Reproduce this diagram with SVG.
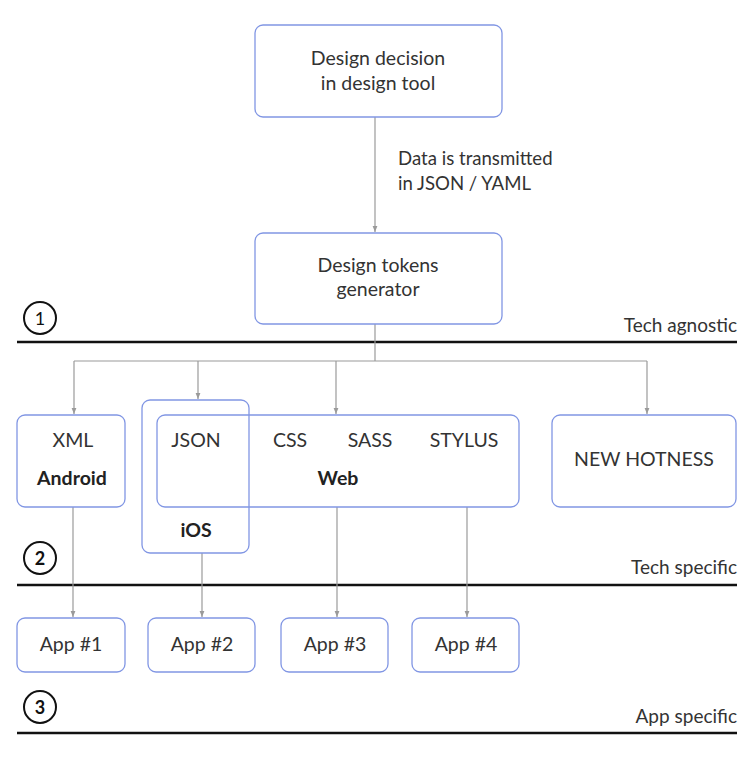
<svg xmlns="http://www.w3.org/2000/svg" width="754" height="759" viewBox="0 0 754 759">
<style>
.box{fill:none;stroke:#8196e4;stroke-width:1.3}
.t{font-family:Lato,"Open Sans",sans-serif;font-size:19.5px;fill:#333;text-anchor:middle}
.b{font-weight:bold;fill:#222}
.lbl{font-family:Lato,"Open Sans",sans-serif;font-size:19px;fill:#333}
.r{text-anchor:end}
.sep{stroke:#111;stroke-width:2.5}
.num{fill:none;stroke:#111;stroke-width:2}
.nt{font-family:Lato,"Open Sans",sans-serif;font-size:18px;fill:#111;text-anchor:middle}
.c{fill:none;stroke:#9a9a9a;stroke-width:1.2}
</style>
<defs>
<marker id="ah" viewBox="0 0 10 10" refX="10" refY="5" markerWidth="6" markerHeight="6" orient="auto" markerUnits="userSpaceOnUse">
<path d="M0,1 L10,5 L0,9 z" fill="#9a9a9a"/>
</marker>
</defs>
<rect width="754" height="759" fill="#fff"/>
<g id="layers">
<line class="sep" x1="17" y1="342" x2="737" y2="342"/>
<line class="sep" x1="17" y1="585" x2="737" y2="585"/>
<line class="sep" x1="17" y1="733" x2="737" y2="733"/>
<circle class="num" cx="40" cy="318" r="16"/>
<text class="nt" x="40" y="324.5">1</text>
<circle class="num" cx="40" cy="558" r="16"/>
<text class="nt b" x="40" y="564.5">2</text>
<circle class="num" cx="40" cy="707" r="16"/>
<text class="nt b" x="40" y="713.5">3</text>
<text class="lbl r" x="737" y="332">Tech agnostic</text>
<text class="lbl r" x="737" y="574">Tech specific</text>
<text class="lbl r" x="737" y="723">App specific</text>
</g>
<g id="connectors">
<line class="c" x1="375" y1="117" x2="375" y2="232" marker-end="url(#ah)"/>
<text class="lbl" x="398" y="165" style="font-size:18.6px">Data is transmitted</text>
<text class="lbl" x="398" y="190" style="font-size:18.6px">in JSON / YAML</text>
<line class="c" x1="375" y1="324" x2="375" y2="361"/>
<line class="c" x1="74" y1="361" x2="647" y2="361"/>
<line class="c" x1="74" y1="361" x2="74" y2="414" marker-end="url(#ah)"/>
<line class="c" x1="198" y1="361" x2="198" y2="399" marker-end="url(#ah)"/>
<line class="c" x1="336" y1="361" x2="336" y2="414" marker-end="url(#ah)"/>
<line class="c" x1="647" y1="361" x2="647" y2="414" marker-end="url(#ah)"/>
<line class="c" x1="73" y1="507" x2="73" y2="617" marker-end="url(#ah)"/>
<line class="c" x1="202" y1="553" x2="202" y2="617" marker-end="url(#ah)"/>
<line class="c" x1="337" y1="507" x2="337" y2="617" marker-end="url(#ah)"/>
<line class="c" x1="467" y1="507" x2="467" y2="617" marker-end="url(#ah)"/>
</g>
<g id="design-decision">
<rect class="box" x="255" y="25" width="247" height="92" rx="8"/>
<text class="t" x="378" y="65">Design decision</text>
<text class="t" x="378" y="90">in design tool</text>
</g>
<g id="tokens-generator">
<rect class="box" x="255" y="233" width="247" height="91" rx="8"/>
<text class="t" x="378" y="272">Design tokens</text>
<text class="t" x="378" y="296">generator</text>
</g>
<g id="android">
<rect class="box" x="17" y="415" width="108" height="92" rx="8"/>
<text class="t" x="73" y="447">XML</text>
<text class="t b" x="72" y="485">Android</text>
</g>
<g id="ios">
<rect class="box" x="142" y="400" width="107" height="153" rx="8"/>
<text class="t" x="196" y="447">JSON</text>
<text class="t b" x="196" y="537">iOS</text>
</g>
<g id="web">
<rect class="box" x="157" y="415" width="362" height="92" rx="8"/>
<text class="t" x="290" y="447">CSS</text>
<text class="t" x="370" y="447">SASS</text>
<text class="t" x="464" y="447">STYLUS</text>
<text class="t b" x="338" y="485">Web</text>
</g>
<g id="new-hotness">
<rect class="box" x="552" y="415" width="184" height="92" rx="8"/>
<text class="t" x="644" y="466">NEW HOTNESS</text>
</g>
<g id="app1">
<rect class="box" x="17" y="618" width="108" height="54" rx="8"/>
<text class="t" x="71" y="651">App #1</text>
</g>
<g id="app2">
<rect class="box" x="148" y="618" width="107" height="54" rx="8"/>
<text class="t" x="202" y="651">App #2</text>
</g>
<g id="app3">
<rect class="box" x="281" y="618" width="107" height="54" rx="8"/>
<text class="t" x="335" y="651">App #3</text>
</g>
<g id="app4">
<rect class="box" x="412" y="618" width="107" height="54" rx="8"/>
<text class="t" x="466" y="651">App #4</text>
</g>
</svg>
